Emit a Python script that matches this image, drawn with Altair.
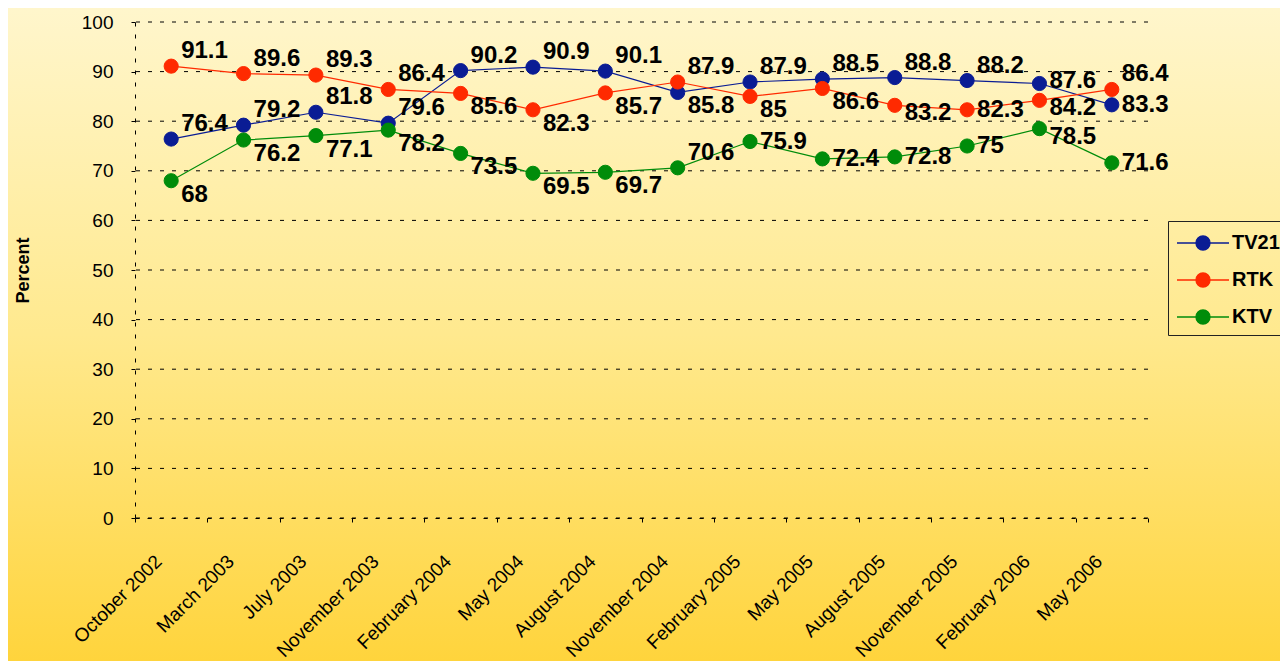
import altair as alt
import pandas as pd

months = ["October 2002", "March 2003", "July 2003", "November 2003", "February 2004",
          "May 2004", "August 2004", "November 2004", "February 2005", "May 2005",
          "August 2005", "November 2005", "February 2006", "May 2006"]
tv21 = [76.4, 79.2, 81.8, 79.6, 90.2, 90.9, 90.1, 85.8, 87.9, 88.5, 88.8, 88.2, 87.6, 83.3]
rtk = [91.1, 89.6, 89.3, 86.4, 85.6, 82.3, 85.7, 87.9, 85.0, 86.6, 83.2, 82.3, 84.2, 86.4]
ktv = [68.0, 76.2, 77.1, 78.2, 73.5, 69.5, 69.7, 70.6, 75.9, 72.4, 72.8, 75.0, 78.5, 71.6]
series_names = ["TV21", "RTK", "KTV"]
series_colors = ["#0A1C94", "#FF2A00", "#008C0A"]
y_ticks = list(range(0, 101, 10))

# label placement codes (a = above, u = slightly above, b = below, m = slightly below, r = right)
placement = {
    "TV21": "aaaaaaabaaaaur",
    "RTK": "aaaabbbabbmrma",
    "KTV": "bbbbbbbarrrrmr",
}

rows = []
for name, vals in zip(series_names, [tv21, rtk, ktv]):
    for i, (m, v) in enumerate(zip(months, vals)):
        rows.append({"month": m, "series": name, "value": v, "place": placement[name][i]})
df = pd.DataFrame(rows)

W, H = 1013, 496
PL, PT, PR, PB = 127, 14, 132, 143
FONT = "Liberation Sans"

# legend symbol: a 52px line with a dot in its middle (unit box = 26px)
legend_path = "M-1,0H3M0.46,0A0.54,0.54,0,1,1,1.54,0A0.54,0.54,0,1,1,0.46,0Z"
legend = alt.Legend(
    orient="none", legendX=1033, legendY=199, title=None,
    symbolType=legend_path, symbolSize=676, symbolStrokeWidth=1.3,
    labelFont=FONT, labelFontSize=20, labelFontWeight="bold", labelColor="black",
    labelOffset=28, strokeColor="#222222", padding=8, rowPadding=13,
)

xenc = alt.X("month:N", sort=months,
             scale=alt.Scale(type="band", domain=months, paddingInner=0, paddingOuter=0),
             axis=alt.Axis(tickBand="extent", labelAngle=-45, labelAlign="right",
                           labelBaseline="middle", labelFont=FONT, labelFontSize=19,
                           labelColor="black", labelPadding=36, labelOffset=-13,
                           tickSize=4, tickColor="black",
                           domainColor="black", domainDash=[4, 8], title=None, zindex=1))
yenc = alt.Y("value:Q", scale=alt.Scale(domain=[0, 100]),
             axis=alt.Axis(values=y_ticks, grid=False, tickSize=4, tickColor="black",
                           labelFont=FONT, labelFontSize=19, labelColor="black",
                           labelPadding=18, domainColor="black", domainDash=[4, 8],
                           title="Percent", titleFont=FONT, titleFontSize=18,
                           titleFontWeight="bold", titleColor="black", titleAngle=-90,
                           titleX=-112, titleY=H / 2, titleAlign="center",
                           titleBaseline="middle", zindex=1))

stroke_scale = alt.Scale(domain=series_names, range=series_colors)

bg = alt.Chart(pd.DataFrame({"k": [0]})).mark_rect(
    color=alt.LinearGradient(
        gradient="linear", x1=0, x2=0, y1=0, y2=1,
        stops=[alt.GradientStop(offset=0, color="#FFF6CC"),
               alt.GradientStop(offset=0.5, color="#FFE98E"),
               alt.GradientStop(offset=1, color="#FFD43C")])
).encode(x=alt.value(-PL), x2=alt.value(W + PR), y=alt.value(-PT), y2=alt.value(H + PB))

grid = alt.Chart(pd.DataFrame({"t": y_ticks})).mark_rule(
    color="black", strokeWidth=1, strokeDash=[4, 8]
).encode(y=alt.Y("t:Q", scale=alt.Scale(domain=[0, 100])))

base = alt.Chart(df)
lines = base.mark_line(strokeWidth=1.2).encode(
    x=xenc, y=yenc,
    stroke=alt.Stroke("series:N", scale=stroke_scale, sort=series_names, legend=legend),
)
points = base.mark_circle(size=200, opacity=1, strokeWidth=1).encode(
    x=xenc, y=yenc,
    fill=alt.Fill("series:N", scale=stroke_scale, sort=series_names, legend=legend),
    stroke=alt.Stroke("series:N", scale=stroke_scale, sort=series_names, legend=legend),
)

def labels(code, dy):
    return base.transform_filter(alt.datum.place == code).mark_text(
        align="left", baseline="middle", dx=10, dy=dy, font=FONT, fontSize=24,
        fontWeight="bold", color="black"
    ).encode(x=xenc, y=yenc, text=alt.Text("value:Q", format="~g"))

chart = alt.layer(
    bg, grid, lines, points,
    labels("a", -15), labels("u", -3), labels("b", 14), labels("m", 8), labels("r", 0)
).properties(
    width=W, height=H,
    autosize=alt.AutoSizeParams(type="none"),
    padding={"left": PL, "top": PT, "right": PR, "bottom": PB},
    background="#FFE690",
).configure_view(stroke=None)

chart.save("out.html", embed_options={"renderer": "svg", "actions": False})
